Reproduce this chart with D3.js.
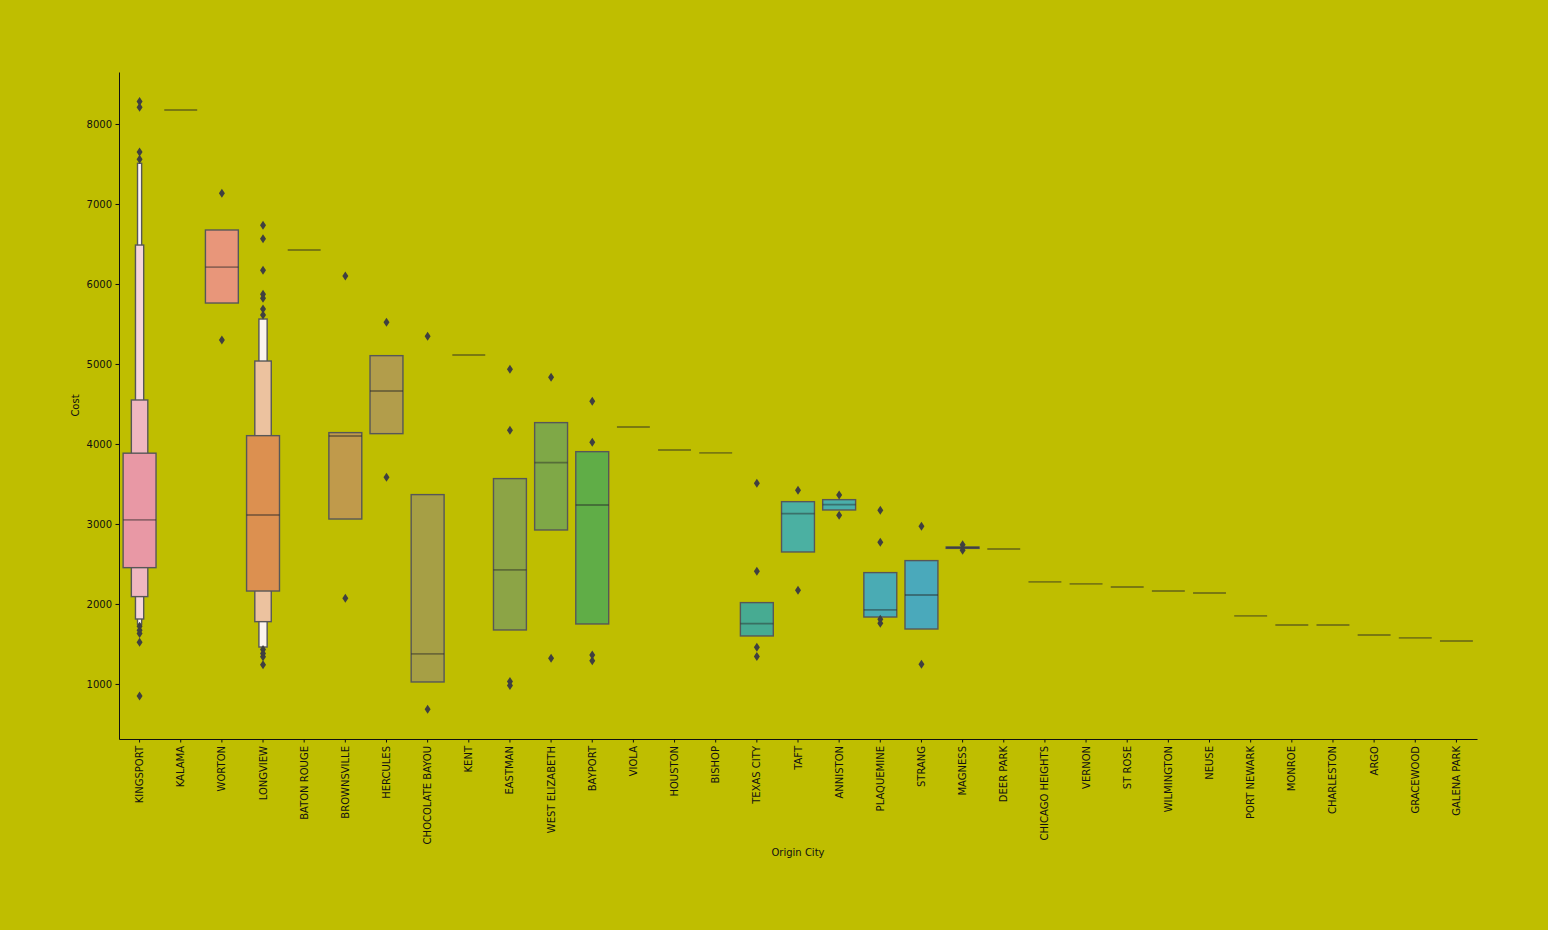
<!DOCTYPE html>
<html>
<head>
<meta charset="utf-8">
<script src="https://cdn.jsdelivr.net/npm/d3@7"></script>
<style>
    body{margin:0;background:#bfbe00;}
    text{font-family:"DejaVu Sans",sans-serif;fill:#111;}
</style>
</head>
<body>
<svg id="chart" width="1548" height="930"></svg>
<script>
//////////////data
var cities=["KINGSPORT","KALAMA","WORTON","LONGVIEW","BATON ROUGE","BROWNSVILLE","HERCULES","CHOCOLATE BAYOU",
    "KENT","EASTMAN","WEST ELIZABETH","BAYPORT","VIOLA","HOUSTON","BISHOP","TEXAS CITY","TAFT","ANNISTON",
    "PLAQUEMINE","STRANG","MAGNESS","DEER PARK","CHICAGO HEIGHTS","VERNON","ST ROSE","WILMINGTON","NEUSE",
    "PORT NEWARK","MONROE","CHARLESTON","ARGO","GRACEWOOD","GALENA PARK"];

var medians=[3050,8175,6212,3112,6425,4100,4662,1375,5112,2425,3767,3237,4212,3925,3888,1754,3129,3242,
    1925,2112,2704,2687,2275,2250,2212,2162,2137,1850,1737,1737,1612,1575,1537];

//letter value boxes, innermost first: [low, high]
var boxLevels=[
    [[2454,3885],[2092,4550],[1812,6487],[1745,7509]],
    [],
    [[5762,6675]],
    [[2162,4104],[1779,5037],[1462,5562]],
    [],
    [[3062,4142]],
    [[4129,5104]],
    [[1025,3367]],
    [],
    [[1675,3567]],
    [[2925,4267]],
    [[1750,3904]],
    [],[],[],
    [[1600,2017]],
    [[2650,3279]],
    [[3175,3304]],
    [[1837,2392]],
    [[1687,2542]],
    [[2695,2712]],
    [[2687,2687]],
    [],[],[],[],[],[],[],[],[],[],[]
];

var outliers=[
    [8280,8210,7650,7560,1720,1670,1630,1520,850],
    [],
    [7133,5300],
    [6733,6567,6171,5871,5821,5687,5612,1430,1380,1340,1240],
    [],
    [6100,2070],
    [5521,3583],
    [5346,683],
    [],
    [4933,4171,1030,980],
    [4833,1321],
    [4533,4021,1362,1291],
    [],[],[],
    [3508,2408,1458,1342],
    [3421,2171],
    [3362,3108],
    [3171,2771,1808,1758],
    [2971,1246],
    [2740,2670],
    [],[],[],[],[],[],[],[],[],[],[],[]
];

var palette=["#e898a5","#e8979a","#e8967a","#dc9050","#cf944c","#c09a4b","#b29d4b","#a69f45","#99a245",
    "#8ca446","#7fa847","#60ad47","#4aad6a","#49ac7d","#48ab88","#47ab92","#4bb0a2","#4aafab","#4aabb4",
    "#4aa9bb","#4da6c6","#56a0d3","#6c98dc","#8790dc","#9f89dc","#b383dc","#c67cd6","#d476c6","#de74b4",
    "#e379a6","#e5809a","#e6888f","#e78f88"];

var yTicks=[1000,2000,3000,4000,5000,6000,7000,8000];

//////////////layout
var space={width:1548,height:930,margin:{top:72,right:71,bottom:191,left:119}};
var svg=d3.select("#chart");
var plotW=space.width-space.margin.left-space.margin.right,
    plotH=space.height-space.margin.top-space.margin.bottom;

var x=d3.scaleBand().domain(cities).range([space.margin.left,space.margin.left+plotW]).padding(0);
var y=d3.scaleLinear().domain([312,8650]).range([space.margin.top+plotH,space.margin.top]);
var boxW=x.bandwidth()*0.8;

svg.append("rect").attr("width",space.width).attr("height",space.height).attr("fill","#bfbe00");

//boxes, outer ones first so the inner ones sit on top
var groups=svg.selectAll("g.city")
    .data(cities)
    .enter()
    .append("g")
    .attr("class","city");

groups.each(function (c,i) {
    var g=d3.select(this);
    var cx=x(c)+x.bandwidth()/2;
    var levels=boxLevels[i];
    var k=levels.length;
    var base=d3.color(palette[i]);
    var light=d3.interpolateRgb(base,"#ffffff")(0.9);
    for (var j=k-1;j>=0;j--){
        var w=boxW/Math.pow(2,j);
        var t=k>1?j/(k-1):0;
        g.append("rect")
            .attr("x",cx-w/2)
            .attr("width",w)
            .attr("y",y(levels[j][1]))
            .attr("height",Math.max(0,y(levels[j][0])-y(levels[j][1])))
            .attr("fill",d3.interpolateRgb(base,light)(t))
            .attr("stroke","#575757")
            .attr("stroke-width",1.4);
    }
    //median
    g.append("line")
        .attr("x1",cx-boxW/2).attr("x2",cx+boxW/2)
        .attr("y1",y(medians[i])).attr("y2",y(medians[i]))
        .attr("stroke","#262626")
        .attr("stroke-opacity",0.45)
        .attr("stroke-width",1.8);
    //outliers as thin diamonds
    g.selectAll("path.out")
        .data(outliers[i])
        .enter()
        .append("path")
        .attr("class","out")
        .attr("d",function (v) {
            var py=y(v);
            return "M"+cx+","+(py-4.5)+"L"+(cx+3)+","+py+"L"+cx+","+(py+4.5)+"L"+(cx-3)+","+py+"Z"
        })
        .attr("fill","#404040");
});

//axes
var yAxis=svg.append("g")
    .attr("transform","translate("+space.margin.left+",0)")
    .call(d3.axisLeft(y).tickValues(yTicks).tickFormat(d3.format("d")).tickSize(3.5).tickPadding(3.5).tickSizeOuter(0));
yAxis.selectAll("text").attr("font-size",10).attr("fill","#111");

var xAxis=svg.append("g")
    .attr("transform","translate(0,"+(space.margin.top+plotH)+")")
    .call(d3.axisBottom(x).tickSize(3.5).tickSizeOuter(0));
xAxis.selectAll("text")
    .attr("font-size",10)
    .attr("fill","#111")
    .attr("text-anchor","end")
    .attr("transform","rotate(-90)")
    .attr("x",-7)
    .attr("y",0)
    .attr("dy","0.35em");

svg.selectAll(".domain,.tick line").attr("stroke","#111").attr("stroke-width",1);

svg.append("text")
    .attr("x",space.margin.left+plotW/2)
    .attr("y",856)
    .attr("text-anchor","middle")
    .attr("font-size",10)
    .text("Origin City");

svg.append("text")
    .attr("transform","translate(79,"+(space.margin.top+plotH/2)+") rotate(-90)")
    .attr("text-anchor","middle")
    .attr("font-size",10)
    .text("Cost");
</script>
</body>
</html>
